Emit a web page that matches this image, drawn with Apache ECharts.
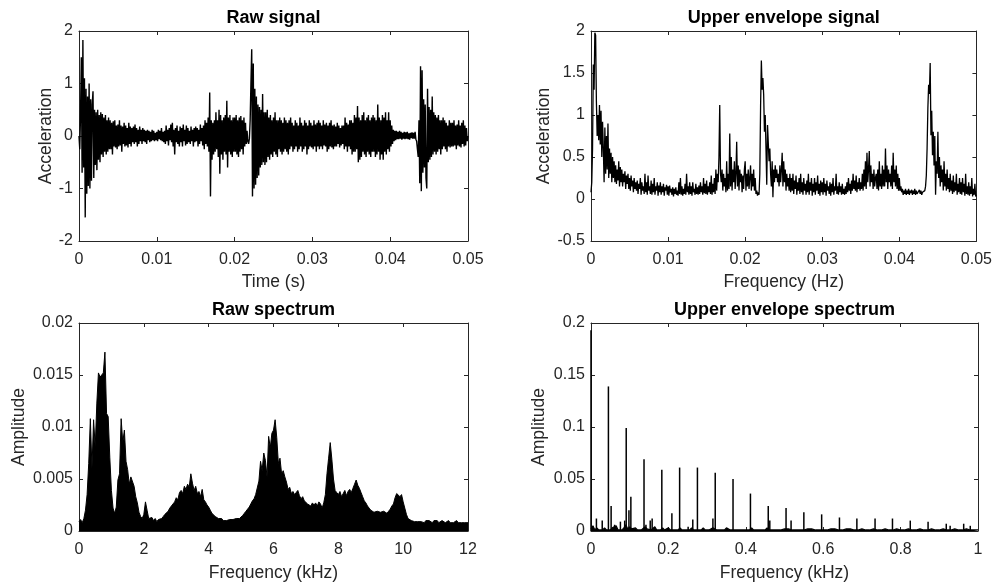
<!DOCTYPE html>
<html><head><meta charset="utf-8">
<script src="https://cdn.jsdelivr.net/npm/echarts/dist/echarts.min.js"></script>
<style>html,body{margin:0;padding:0;background:#fff}#c{width:995px;height:586px}</style>
</head><body><div id="c"></div>
<script>
// ---------- DATA ----------
const titles = ['Raw signal', 'Upper envelope signal', 'Raw spectrum', 'Upper envelope spectrum'];
const xNames = ['Time (s)', 'Frequency (Hz)', 'Frequency (kHz)', 'Frequency (kHz)'];
const yNames = ['Acceleration', 'Acceleration', 'Amplitude', 'Amplitude'];
// [min, max, tick interval]
const xTicks = [[0, 0.05, 0.01], [0, 0.05, 0.01], [0, 12, 2], [0, 1, 0.2]];
const yTicks = [[-2, 2, 1], [-0.5, 2, 0.5], [0, 0.02, 0.005], [0, 0.2, 0.05]];

// sampling step of the two time signals (s)
const signalStep = 0.0001;
const rawSignal = [
0,-0.25,0.45,1.5,-0.7,1.83,-0.6,1.1,-1.55,0.9,
-1.1,0.75,-0.95,1.0,-1.0,0.7,-0.85,0.6,0.85,-0.8,
0.5,-0.55,0.45,-0.65,0.5,-0.45,0.4,-0.5,0.45,-0.35,
0.42,-0.4,0.35,-0.3,0.4,-0.35,0.3,-0.3,0.35,-0.25,
0.3,-0.25,0.25,-0.35,0.28,-0.2,0.3,-0.22,0.2,-0.25,
0.22,-0.2,0.3,-0.18,0.2,-0.3,0.18,-0.15,0.25,-0.2,
0.2,-0.18,0.15,-0.22,0.25,-0.15,0.18,-0.2,0.15,-0.12,
0.18,-0.15,0.22,-0.12,0.15,-0.2,0.12,-0.15,0.18,-0.1,
0.12,-0.15,0.15,-0.1,0.12,-0.12,0.1,-0.15,0.12,-0.08,
0.1,-0.12,0.08,-0.1,0.12,-0.08,0.1,-0.1,0.06,-0.08,
0.08,-0.1,0.12,-0.06,0.1,-0.08,0.15,-0.1,0.08,-0.12,
0.1,-0.15,0.2,-0.1,0.12,-0.18,0.15,-0.08,0.22,-0.12,
0.25,-0.2,0.12,-0.35,0.15,-0.12,0.2,-0.15,0.1,-0.2,
0.18,-0.12,0.15,-0.2,0.22,-0.1,0.12,-0.18,0.2,-0.15,
0.15,-0.12,0.1,-0.15,0.18,-0.1,0.12,-0.2,0.15,-0.12,
0.18,-0.1,0.15,-0.2,0.12,-0.15,0.22,-0.1,0.15,-0.18,
0.2,-0.25,0.3,-0.15,0.25,-0.2,0.35,-0.3,0.83,-1.15,
0.3,-0.45,0.25,-0.35,0.3,-0.3,0.45,-0.25,0.3,-0.4,
0.5,-0.72,0.4,-0.35,0.3,-0.45,0.35,-0.3,0.4,-0.35,
0.67,-0.6,0.35,-0.3,0.4,-0.35,0.3,-0.4,0.35,-0.3,
0.35,-0.3,0.4,-0.35,0.3,-0.4,0.35,-0.3,0.38,-0.25,
0.3,-0.35,0.35,-0.2,0.25,-0.15,0.1,-0.1,-0.15,-0.05,
0.3,1.0,1.65,-1.15,1.38,-1.0,0.9,-0.93,0.75,-0.8,
0.6,-0.75,0.55,-0.6,0.5,-0.55,0.8,-0.5,0.45,-0.55,
0.45,-0.5,0.5,-0.4,0.35,-0.45,0.4,-0.35,0.3,-0.4,
0.35,-0.3,0.45,-0.35,0.3,-0.4,0.3,-0.25,0.35,-0.3,
0.3,-0.35,0.25,-0.3,0.35,-0.25,0.3,-0.3,0.25,-0.35,
0.3,-0.25,0.35,-0.2,0.25,-0.3,0.2,-0.25,0.3,-0.2,
0.25,-0.3,0.2,-0.25,0.35,-0.2,0.25,-0.3,0.2,-0.25,
0.3,-0.2,0.25,-0.35,0.2,-0.25,0.3,-0.2,0.25,-0.22,
0.2,-0.25,0.3,-0.2,0.22,-0.3,0.25,-0.2,0.3,-0.25,
0.25,-0.2,0.2,-0.25,0.3,-0.18,0.22,-0.2,0.25,-0.3,
0.2,-0.25,0.25,-0.2,0.3,-0.22,0.2,-0.25,0.22,-0.2,
0.18,-0.2,0.25,-0.15,0.2,-0.22,0.15,-0.18,0.2,-0.15,
0.2,-0.25,0.35,-0.2,0.25,-0.3,0.22,-0.2,0.3,-0.25,
0.3,-0.35,0.25,-0.3,0.4,-0.3,0.35,-0.25,0.57,-0.5,
0.35,-0.45,0.3,-0.4,0.4,-0.3,0.45,-0.35,0.3,-0.4,
0.35,-0.3,0.4,-0.35,0.3,-0.4,0.35,-0.3,0.4,-0.3,
0.35,-0.4,0.3,-0.35,0.6,-0.3,0.35,-0.45,0.3,-0.35,
0.4,-0.45,0.35,-0.3,0.45,-0.35,0.3,-0.25,0.45,-0.3,
0.3,-0.2,0.2,-0.15,0.12,-0.1,0.1,-0.08,0.1,-0.06,
0.08,-0.06,0.1,-0.05,0.08,-0.07,0.06,-0.05,0.08,-0.06,
0.07,-0.05,0.08,-0.06,0.05,-0.07,0.06,-0.04,0.07,-0.05,
0.06,-0.05,0.08,-0.06,-0.1,-0.25,-0.4,0.3,-0.9,1.33,
-1.05,1.25,-0.7,0.7,-0.6,0.6,-0.8,-1.0,0.9,-0.5,
0.55,-0.45,0.5,-0.4,0.75,-0.35,0.45,-0.3,0.4,-0.35,
0.35,-0.3,0.4,-0.25,0.3,-0.35,0.3,-0.25,0.35,-0.2,
0.3,-0.25,0.25,-0.3,0.2,-0.2,0.3,-0.22,0.25,-0.2,
0.25,-0.2,0.3,-0.18,0.2,-0.25,0.22,-0.18,0.3,-0.2,
0.2,-0.22,0.25,-0.15,0.3,-0.2,0.2,-0.18,0.15,-0.1,
0
];
const envelopeSignal = [
0.08,0.2,0.6,1.6,1.3,1.98,1.95,1.16,0.75,1.0,
0.7,1.12,0.65,1.05,0.5,0.92,0.6,0.2,0.85,0.3,
0.75,0.35,0.9,0.25,0.6,0.3,0.55,0.2,0.5,0.25,
0.45,0.2,0.4,0.18,0.35,0.22,0.45,0.15,0.38,0.2,
0.35,0.15,0.3,0.2,0.33,0.12,0.28,0.18,0.3,0.12,
0.25,0.1,0.28,0.15,0.22,0.08,0.25,0.12,0.2,0.1,
0.22,0.06,0.18,0.12,0.25,0.05,0.2,0.1,0.15,0.06,
0.3,0.08,0.2,0.05,0.28,0.1,0.15,0.06,0.22,0.05,
0.18,0.08,0.25,0.05,0.15,0.1,0.2,0.04,0.16,0.08,
0.2,0.05,0.15,0.08,0.18,0.04,0.14,0.1,0.17,0.05,
0.15,0.04,0.16,0.08,0.12,0.05,0.14,0.03,0.12,0.06,
0.14,0.05,0.1,0.04,0.2,0.06,0.25,0.05,0.15,0.04,
0.12,0.06,0.18,0.05,0.3,0.08,0.15,0.05,0.2,0.06,
0.15,0.04,0.2,0.08,0.12,0.05,0.18,0.06,0.14,0.05,
0.16,0.06,0.2,0.08,0.15,0.05,0.25,0.07,0.18,0.06,
0.22,0.05,0.15,0.08,0.2,0.06,0.28,0.05,0.18,0.08,
0.25,0.06,0.35,0.1,0.3,0.2,0.5,1.12,0.3,0.2,
0.35,0.1,0.3,0.15,0.25,0.08,0.45,0.1,0.3,0.12,
0.78,0.15,0.5,0.1,0.35,0.2,0.45,0.12,0.3,0.68,
0.15,0.4,0.1,0.35,0.2,0.3,0.08,0.28,0.12,0.35,
0.45,0.1,0.3,0.15,0.35,0.12,0.25,0.4,0.1,0.3,
0.15,0.35,0.1,0.25,0.06,0.1,0.04,0.08,0.05,0.3,
1.1,1.65,1.3,1.44,1.24,0.8,1.0,0.6,0.17,0.88,
0.9,0.45,0.6,0.3,0.15,0.45,0.02,0.35,0.2,0.4,
0.25,0.35,0.2,0.3,0.15,0.4,0.2,0.35,0.55,0.15,
0.45,0.2,0.35,0.1,0.3,0.15,0.25,0.1,0.3,0.08,
0.25,0.1,0.3,0.06,0.22,0.12,0.28,0.05,0.2,0.1,
0.25,0.06,0.3,0.08,0.2,0.05,0.25,0.1,0.18,0.05,
0.22,0.08,0.3,0.05,0.2,0.1,0.25,0.04,0.18,0.08,
0.25,0.05,0.2,0.1,0.28,0.06,0.18,0.04,0.22,0.08,
0.2,0.05,0.25,0.08,0.18,0.04,0.22,0.1,0.15,0.06,
0.2,0.04,0.18,0.08,0.25,0.05,0.15,0.1,0.3,0.06,
0.15,0.05,0.2,0.08,0.15,0.05,0.18,0.06,0.12,0.05,
0.15,0.06,0.2,0.08,0.25,0.1,0.18,0.06,0.22,0.1,
0.3,0.12,0.22,0.1,0.28,0.08,0.2,0.12,0.25,0.1,
0.2,0.12,0.3,0.1,0.35,0.15,0.45,0.12,0.55,0.2,
0.35,0.57,0.15,0.4,0.2,0.3,0.12,0.35,0.15,0.25,
0.3,0.12,0.35,0.1,0.45,0.15,0.3,0.12,0.4,0.15,
0.35,0.15,0.6,0.2,0.4,0.12,0.35,0.2,0.3,0.15,
0.4,0.12,0.55,0.2,0.35,0.15,0.4,0.12,0.3,0.1,
0.25,0.1,0.15,0.08,0.12,0.05,0.1,0.06,0.12,0.05,
0.1,0.06,0.12,0.05,0.1,0.07,0.11,0.05,0.1,0.06,
0.12,0.05,0.1,0.06,0.08,0.05,0.11,0.06,0.1,0.05,
0.08,0.1,0.06,0.1,0.15,0.28,0.6,1.08,1.36,1.25,
1.62,0.76,1.05,0.52,0.8,0.4,0.75,0.05,0.45,0.3,
0.8,0.25,0.5,0.15,0.4,0.2,0.35,0.1,0.45,0.15,
0.3,0.1,0.35,0.12,0.25,0.08,0.3,0.1,0.22,0.06,
0.28,0.08,0.2,0.1,0.3,0.05,0.18,0.08,0.25,0.06,
0.2,0.05,0.25,0.08,0.18,0.04,0.3,0.06,0.15,0.05,
0.2,0.04,0.15,0.06,0.25,0.03,0.12,0.05,0.18,0.03,
0.05
];

// raw spectrum, frequency step in kHz
const rawSpecStep = 0.05;
const rawSpectrum = [
0.0009,0.0011,0.0008,0.0012,0.0020,0.0035,0.0065,0.0108,0.0060,0.0107,
0.0081,0.0123,0.0152,0.0148,0.0150,0.0152,0.0172,0.0113,0.0110,0.0071,
0.0039,0.0022,0.0017,0.0023,0.0049,0.0055,0.0108,0.0085,0.0097,0.0067,
0.0059,0.0045,0.0052,0.0051,0.0043,0.0033,0.0027,0.0018,0.0014,0.0012,
0.0016,0.0028,0.0020,0.0012,0.0011,0.0013,0.0010,0.0012,0.0009,0.0011,
0.0010,0.0012,0.0014,0.0016,0.0015,0.0019,0.0022,0.0021,0.0026,0.0028,
0.0032,0.0030,0.0037,0.0039,0.0036,0.0043,0.0040,0.0045,0.0042,0.0055,
0.0046,0.0039,0.0043,0.0036,0.0038,0.0033,0.0040,0.0030,0.0028,0.0025,
0.0023,0.0020,0.0017,0.0016,0.0014,0.0013,0.0012,0.0011,0.0012,0.0010,
0.0011,0.0010,0.0010,0.0011,0.0010,0.0011,0.0010,0.0012,0.0011,0.0012,
0.0013,0.0015,0.0017,0.0019,0.0020,0.0023,0.0026,0.0029,0.0031,0.0035,
0.0036,0.0048,0.0067,0.0058,0.0075,0.0068,0.0052,0.0091,0.0080,0.0094,
0.0097,0.0107,0.0090,0.0065,0.0070,0.0055,0.0058,0.0052,0.0047,0.0040,
0.0042,0.0036,0.0038,0.0035,0.0037,0.0039,0.0034,0.0031,0.0033,0.0029,
0.0028,0.0026,0.0025,0.0024,0.0027,0.0025,0.0027,0.0024,0.0028,0.0026,
0.0022,0.0027,0.0035,0.0055,0.0070,0.0085,0.0069,0.0050,0.0039,0.0037,
0.0035,0.0038,0.0033,0.0036,0.0039,0.0034,0.0038,0.0040,0.0037,0.0041,
0.0045,0.0049,0.0044,0.0041,0.0037,0.0033,0.0029,0.0027,0.0024,0.0022,
0.0020,0.0019,0.0018,0.0017,0.0019,0.0020,0.0018,0.0017,0.0019,0.0018,
0.0017,0.0019,0.0021,0.0024,0.0026,0.0032,0.0036,0.0037,0.0033,0.0035,
0.0028,0.0022,0.0016,0.0012,0.0011,0.0010,0.0011,0.0009,0.0010,0.0009,
0.0010,0.0009,0.0010,0.0008,0.0010,0.0009,0.0010,0.0009,0.0008,0.0010,
0.0009,0.0010,0.0008,0.0009,0.0010,0.0009,0.0008,0.0009,0.0010,0.0008,
0.0009,0.0008,0.0009,0.0010,0.0008,0.0009,0.0008,0.0009,0.0008,0.0009,
0.0008
];

// envelope spectrum: noise floor (step in kHz) and the discrete lines [kHz, amplitude]
const envSpecStep = 0.005;
const envSpecFloor = [
0.002,0.005,0.001,0.003,0.001,0.002,0.001,0.003,0.001,0.002,
0.001,0.003,0.002,0.005,0.001,0.002,0.001,0.003,0.006,0.002,
0.004,0.002,0.001,0.003,0.001,0.002,0.001,0.002,0.004,0.002,
0.003,0.001,0.002,0.004,0.001,0.002,0.001,0.003,0.001,0.002,
0.003,0.001,0.002,0.001,0.002,0.001,0.003,0.001,0.002,0.001,
0.002,0.001,0.003,0.001,0.002,0.001,0.002,0.001,0.003,0.001,
0.002,0.001,0.002,0.003,0.002,0.001,0.002,0.001,0.002,0.001,
0.003,0.002,0.001,0.002,0.001,0.002,0.001,0.002,0.001,0.002,
0.001,0.002,0.001,0.003,0.001,0.002,0.001,0.002,0.001,0.002,
0.001,0.003,0.001,0.002,0.001,0.002,0.001,0.002,0.001,0.001,
0.002,0.001,0.002,0.001,0.001,0.002,0.001,0.002,0.001,0.002,
0.001,0.001,0.002,0.001,0.002,0.001,0.001,0.002,0.001,0.002,
0.001,0.002,0.001,0.001,0.002,0.001,0.002,0.001,0.001,0.002,
0.001,0.001,0.002,0.001,0.002,0.001,0.001,0.002,0.001,0.001,
0.002,0.001,0.001,0.002,0.001,0.001,0.002,0.001,0.001,0.002,
0.001,0.001,0.002,0.001,0.001,0.002,0.001,0.001,0.002,0.001,
0.001,0.002,0.001,0.001,0.002,0.001,0.001,0.002,0.001,0.001,
0.002,0.001,0.001,0.002,0.001,0.001,0.002,0.001,0.001,0.002,
0.001,0.001,0.002,0.001,0.001,0.002,0.001,0.001,0.002,0.001,
0.001,0.002,0.001,0.001,0.002,0.001,0.001,0.002,0.001,0.001,
0.001
];
const envSpecLines = [
[0,0.193],[0.014,0.012],[0.029,0.010],[0.045,0.139],[0.052,0.024],[0.061,0.006],
[0.076,0.009],[0.087,0.010],[0.091,0.099],[0.098,0.020],[0.103,0.033],[0.137,0.069],
[0.142,0.006],[0.153,0.010],[0.158,0.012],[0.183,0.059],[0.209,0.017],[0.229,0.061],
[0.251,0.004],[0.263,0.011],[0.275,0.061],[0.315,0.012],[0.321,0.056],[0.367,0.050],
[0.412,0.036],[0.458,0.024],[0.462,0.010],[0.504,0.022],[0.517,0.010],[0.550,0.018],
[0.596,0.016],[0.642,0.013],[0.687,0.012],[0.734,0.012],[0.779,0.012],[0.825,0.010],
[0.871,0.009],[0.918,0.007],[0.928,0.005],[0.963,0.007],[0.980,0.005]
];

// ---------- CHART ----------
const FONT = '"Liberation Sans", Arial, Helvetica, sans-serif';
const AX = '#262626';
const grids = [
  {left: 79, top: 31, width: 389, height: 210},
  {left: 591, top: 31, width: 387, height: 210},
  {left: 79, top: 323, width: 389, height: 208},
  {left: 591, top: 323, width: 387, height: 208}
];
const xNameGap = [32, 32, 33, 33];
const yNameGap = [22, 37, 51, 43];

function baseAxis(r) {
  return {
    type: 'value', min: r[0], max: r[1], interval: r[2],
    axisLine: {show: true, onZero: false, lineStyle: {color: AX, width: 1}},
    axisTick: {show: true, inside: true, length: 4, lineStyle: {color: AX, width: 1}},
    splitLine: {show: false},
    axisLabel: {show: true, color: AX, fontSize: 16, fontFamily: FONT, showMinLabel: true, showMaxLabel: true}
  };
}
const xAxis = [], yAxis = [];
for (let i = 0; i < 4; i++) {
  const b = Object.assign(baseAxis(xTicks[i]), {
    gridIndex: i, position: 'bottom', name: xNames[i], nameLocation: 'middle', nameGap: xNameGap[i],
    nameTextStyle: {color: AX, fontSize: 17.5, fontFamily: FONT}
  });
  b.axisLabel.margin = 11;
  xAxis.push(b);
}
for (let i = 0; i < 4; i++) {
  const t = Object.assign(baseAxis(xTicks[i]), {
    gridIndex: i, position: 'top', name: titles[i], nameLocation: 'middle', nameGap: 4,
    nameTextStyle: {color: '#000', fontSize: 18, fontWeight: 'bold', fontFamily: FONT}
  });
  t.axisLabel = {show: false};
  xAxis.push(t);
}
for (let i = 0; i < 4; i++) {
  const l = Object.assign(baseAxis(yTicks[i]), {
    gridIndex: i, position: 'left', name: yNames[i], nameLocation: 'middle', nameGap: yNameGap[i],
    nameTextStyle: {color: AX, fontSize: 17.5, fontFamily: FONT}
  });
  l.axisLabel.margin = 6;
  yAxis.push(l);
}
for (let i = 0; i < 4; i++) {
  const r = Object.assign(baseAxis(yTicks[i]), {gridIndex: i, position: 'right'});
  r.axisLabel = {show: false};
  yAxis.push(r);
}

const lineBase = {type: 'line', symbol: 'none', showSymbol: false, animation: false,
  lineStyle: {color: '#000', width: 1}, itemStyle: {color: '#000'}, silent: true};

const series = [
  Object.assign({}, lineBase, {xAxisIndex: 0, yAxisIndex: 0, lineStyle: {color: '#000', width: 1.4},
    data: rawSignal.map((v, i) => [i * signalStep, v])}),
  Object.assign({}, lineBase, {xAxisIndex: 1, yAxisIndex: 1, lineStyle: {color: '#000', width: 1.3},
    data: envelopeSignal.map((v, i) => [i * signalStep, v])}),
  Object.assign({}, lineBase, {xAxisIndex: 2, yAxisIndex: 2,
    areaStyle: {color: '#000', opacity: 1},
    data: rawSpectrum.map((v, i) => [i * rawSpecStep, v])}),
  Object.assign({}, lineBase, {xAxisIndex: 3, yAxisIndex: 3, lineStyle: {color: '#000', width: 1.2},
    areaStyle: {color: '#000', opacity: 1},
    data: envSpecFloor.map((v, i) => [i * envSpecStep, v])}),
  {type: 'bar', xAxisIndex: 3, yAxisIndex: 3, barWidth: 1.5, animation: false, silent: true,
    itemStyle: {color: '#000'}, data: envSpecLines}
];

const chart = echarts.init(document.getElementById('c'), null, {renderer: 'canvas'});
chart.setOption({
  backgroundColor: '#fff',
  animation: false,
  textStyle: {fontFamily: FONT},
  grid: grids,
  xAxis: xAxis,
  yAxis: yAxis,
  series: series
});
</script>
</body></html>
